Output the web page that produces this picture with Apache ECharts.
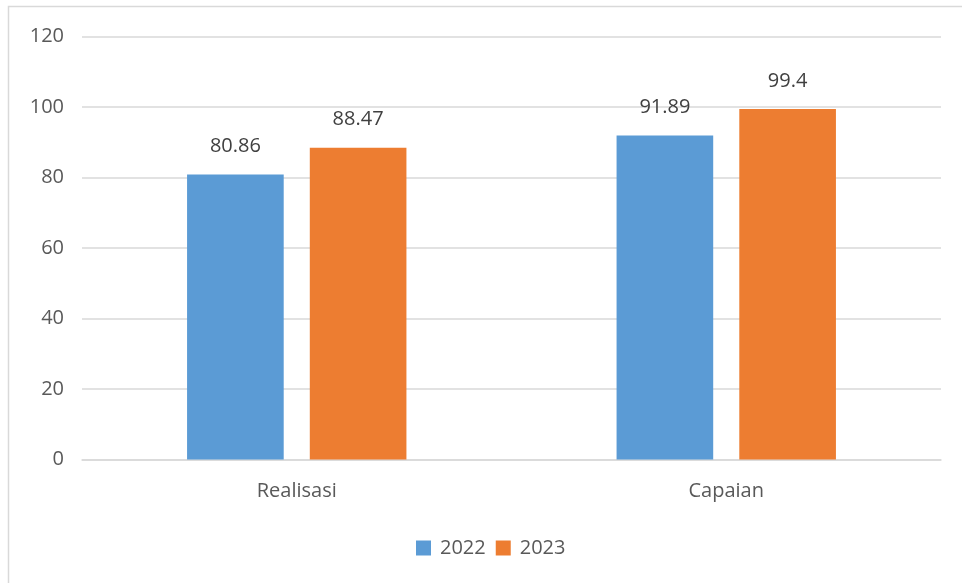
<!DOCTYPE html>
<html>
<head>
<meta charset="utf-8">
<script src="https://cdn.jsdelivr.net/npm/echarts@6/dist/echarts.min.js"></script>
<style>
html,body{margin:0;padding:0;background:#fff;}
#chart{width:962px;height:583px;}
</style>
</head>
<body>
<div id="chart"></div>
<script>
const categories = ['Realisasi', 'Capaian'];
const seriesNames = ['2022', '2023'];
const values2022 = [80.86, 91.89];
const values2023 = [88.47, 99.4];
const yTicks = { min: 0, max: 120, interval: 20 };

const FONT = '"Open Sans", "Noto Sans", sans-serif';
const chart = echarts.init(document.getElementById('chart'), null, { renderer: 'canvas' });

const labelStyle = {
  show: true,
  position: 'top',
  distance: 18,
  color: '#404040',
  fontSize: 20,
  fontFamily: FONT
};

chart.setOption({
  backgroundColor: '#ffffff',
  animation: false,
  graphic: [{
    type: 'rect',
    shape: { x: 8.5, y: 6.5, width: 1200, height: 1200 },
    style: { fill: 'none', stroke: '#D9D9D9', lineWidth: 1.5 },
    silent: true
  }],
  grid: { left: 82, right: 21, top: 36.5, bottom: 123.5, containLabel: false },
  legend: {
    data: seriesNames,
    top: 533,
    left: 411,
    itemWidth: 15,
    itemHeight: 15,
    itemGap: 10,
    icon: 'rect',
    textStyle: { color: '#595959', fontSize: 20, fontFamily: FONT, padding: [0, 0, 0, 4] }
  },
  xAxis: {
    type: 'category',
    data: categories,
    axisLine: { show: true, lineStyle: { color: '#D9D9D9', width: 1.5 } },
    axisTick: { show: false },
    axisLabel: { color: '#595959', fontSize: 20, fontFamily: FONT, margin: 22 }
  },
  yAxis: {
    type: 'value',
    min: yTicks.min,
    max: yTicks.max,
    interval: yTicks.interval,
    axisLine: { show: false },
    axisTick: { show: false },
    splitLine: { lineStyle: { color: '#D9D9D9', width: 1.5 } },
    axisLabel: { color: '#595959', fontSize: 20, fontFamily: FONT, margin: 18 }
  },
  series: [
    {
      name: seriesNames[0],
      type: 'bar',
      data: values2022,
      barWidth: '22.5%',
      barGap: '27%',
      itemStyle: { color: '#5B9BD5' },
      label: labelStyle
    },
    {
      name: seriesNames[1],
      type: 'bar',
      data: values2023,
      barWidth: '22.5%',
      barGap: '27%',
      itemStyle: { color: '#ED7D31' },
      label: labelStyle
    }
  ]
});
</script>
</body>
</html>
